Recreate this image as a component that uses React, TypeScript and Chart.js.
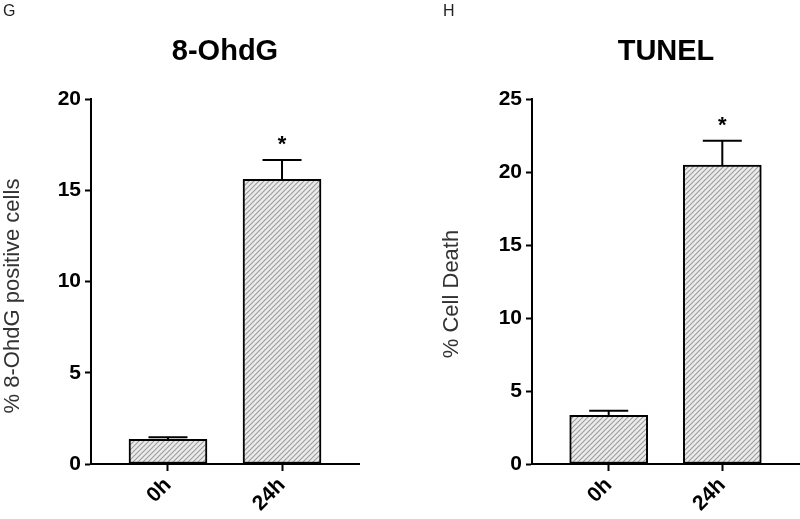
import React, { useEffect, useRef } from "react";
import { Chart, registerables } from "chart.js";

Chart.register(...registerables);

const categories = ["0h", "24h"];

const ohdgMeans = [1.35, 15.6];
const ohdgErrors = [0.11, 1.06];
const ohdgTicks = [0, 5, 10, 15, 20];

const tunelMeans = [3.33, 20.48];
const tunelErrors = [0.32, 1.66];
const tunelTicks = [0, 5, 10, 15, 20, 25];

const significant = [false, true];

const FONT = "'Liberation Sans', Arial, Helvetica, sans-serif";

function makeHatch(ctx: CanvasRenderingContext2D) {
  const s = 5;
  const c = document.createElement("canvas");
  c.width = s;
  c.height = s;
  const g = c.getContext("2d")!;
  g.fillStyle = "#ebebeb";
  g.fillRect(0, 0, s, s);
  g.strokeStyle = "#9c9c9c";
  g.lineWidth = 1.1;
  g.beginPath();
  g.moveTo(-1, s + 1);
  g.lineTo(s + 1, -1);
  g.moveTo(-1, 1);
  g.lineTo(1, -1);
  g.moveTo(s - 1, s + 1);
  g.lineTo(s + 1, s - 1);
  g.stroke();
  return ctx.createPattern(c, "repeat")!;
}

type PanelSpec = {
  letter: string;
  letterX: number;
  title: string;
  titleX: number;
  yTitle: string;
  yTitleX: number;
  yTitleY: number;
  means: number[];
  errors: number[];
  ticks: number[];
  yWidth: number;
  padRight: number;
};

function buildChart(canvas: HTMLCanvasElement, p: PanelSpec) {
  const ctx = canvas.getContext("2d")!;
  const hatch = makeHatch(ctx);
  const yMax = p.ticks[p.ticks.length - 1];

  const overlay = {
    id: "overlay",
    afterDatasetsDraw(chart: any) {
      const c = chart.ctx;
      const xs = chart.scales.x;
      const ys = chart.scales.y;
      const meta = chart.getDatasetMeta(0);
      c.save();
      c.strokeStyle = "#000";
      c.lineWidth = 2;
      p.means.forEach((m, i) => {
        const x = xs.getPixelForValue(i);
        const yb = ys.getPixelForValue(m);
        const yt = ys.getPixelForValue(m + p.errors[i]);
        const half = meta.data[i].width / 4;
        c.beginPath();
        c.moveTo(x, yb);
        c.lineTo(x, yt);
        c.moveTo(x - half, yt);
        c.lineTo(x + half, yt);
        c.stroke();
        if (significant[i]) {
          c.fillStyle = "#000";
          c.font = `bold 22px ${FONT}`;
          c.textAlign = "center";
          c.textBaseline = "middle";
          c.fillText("*", x, yt - 15);
        }
      });
      c.restore();
    },
    afterDraw(chart: any) {
      const c = chart.ctx;
      c.save();
      c.fillStyle = "#222";
      c.font = `16px ${FONT}`;
      c.textAlign = "left";
      c.textBaseline = "top";
      c.fillText(p.letter, p.letterX, 4);
      c.fillStyle = "#000";
      c.font = `bold 29px ${FONT}`;
      c.textAlign = "center";
      c.textBaseline = "middle";
      c.fillText(p.title, p.titleX, 52);
      c.fillStyle = "#333";
      c.font = `22px ${FONT}`;
      c.translate(p.yTitleX, p.yTitleY);
      c.rotate(-Math.PI / 2);
      c.fillText(p.yTitle, 0, 0);
      c.restore();
    },
  };

  return new Chart(canvas, {
    type: "bar",
    data: {
      datasets: [
        {
          data: p.means.map((m, i) => ({ x: i, y: m })),
          backgroundColor: hatch,
          borderColor: "#000",
          borderWidth: 2,
          borderSkipped: false,
          barThickness: 78,
        },
      ],
    },
    options: {
      responsive: false,
      animation: false,
      layout: { padding: { left: 0, top: 99, right: p.padRight, bottom: 0 } },
      plugins: { legend: { display: false }, tooltip: { enabled: false }, title: { display: false } },
      scales: {
        x: {
          type: "linear",
          offset: false,
          min: -0.675,
          max: categories.length - 1 + 0.675,
          afterBuildTicks: (scale: any) => {
            scale.ticks = categories.map((_, i) => ({ value: i }));
          },
          afterFit: (scale: any) => {
            scale.height = 55;
          },
          border: { display: true, color: "#000", width: 2 },
          grid: { display: true, offset: false, drawOnChartArea: false, drawTicks: true, tickLength: 7, tickWidth: 2, tickColor: "#000" },
          ticks: {
            autoSkip: false,
            maxRotation: 45,
            minRotation: 45,
            padding: 2,
            color: "#000",
            font: { family: FONT, size: 21, weight: "bold" },
            callback: (v: any) => categories[v as number] ?? "",
          },
        },
        y: {
          type: "linear",
          min: 0,
          max: yMax,
          afterBuildTicks: (scale: any) => {
            scale.ticks = p.ticks.map((v) => ({ value: v }));
          },
          afterFit: (scale: any) => {
            scale.width = p.yWidth;
          },
          border: { display: true, color: "#000", width: 2 },
          grid: { display: true, drawOnChartArea: false, drawTicks: true, tickLength: 6, tickWidth: 2, tickColor: "#000" },
          ticks: {
            padding: 4,
            color: "#000",
            font: { family: FONT, size: 21, weight: "bold" },
          },
        },
      },
    },
    plugins: [overlay],
  } as any);
}

const panelG: PanelSpec = {
  letter: "G",
  letterX: 3,
  title: "8-OhdG",
  titleX: 225,
  yTitle: "% 8-OhdG positive cells",
  yTitleX: 13,
  yTitleY: 296,
  means: ohdgMeans,
  errors: ohdgErrors,
  ticks: ohdgTicks,
  yWidth: 91,
  padRight: 61,
};

const panelH: PanelSpec = {
  letter: "H",
  letterX: 23,
  title: "TUNEL",
  titleX: 246,
  yTitle: "% Cell Death",
  yTitleX: 32,
  yTitleY: 294,
  means: tunelMeans,
  errors: tunelErrors,
  ticks: tunelTicks,
  yWidth: 112,
  padRight: 1,
};

export default function App() {
  const refG = useRef<HTMLCanvasElement>(null);
  const refH = useRef<HTMLCanvasElement>(null);

  useEffect(() => {
    const a = buildChart(refG.current!, panelG);
    const b = buildChart(refH.current!, panelH);
    return () => {
      a.destroy();
      b.destroy();
    };
  }, []);

  return (
    <div style={{ position: "absolute", left: 0, top: 0, width: 800, height: 519, background: "#fff" }}>
      <canvas ref={refG} width={420} height={519} style={{ position: "absolute", left: 0, top: 0, width: 420, height: 519 }} />
      <canvas ref={refH} width={380} height={519} style={{ position: "absolute", left: 420, top: 0, width: 380, height: 519 }} />
    </div>
  );
}
